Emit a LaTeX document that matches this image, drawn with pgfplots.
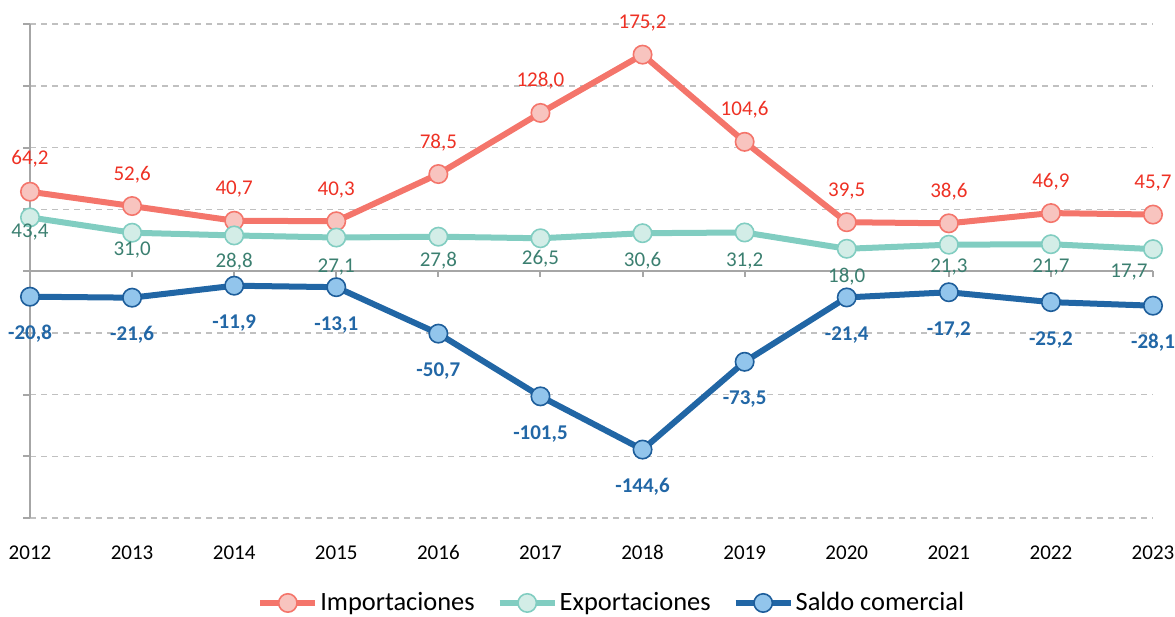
\documentclass[border=0pt]{standalone}
\usepackage{pgfplots}
\usepackage{pgfplotstable}
\pgfplotsset{compat=1.18}
\usepackage{fontspec}
\setmainfont{Carlito}
\definecolor{impL}{HTML}{F4756B}
\definecolor{impF}{HTML}{F8C4BF}
\definecolor{impT}{HTML}{EE3124}
\definecolor{expL}{HTML}{81CDC1}
\definecolor{expF}{HTML}{D3EDE7}
\definecolor{expT}{HTML}{3B7F70}
\definecolor{salL}{HTML}{2166A5}
\definecolor{salF}{HTML}{92C5EC}
\definecolor{salD}{HTML}{1E5E9B}
\definecolor{salT}{HTML}{2267A6}
\definecolor{axgray}{HTML}{A6A6A6}
\definecolor{grgray}{HTML}{C0C0C0}

\pgfplotstableread{
x y dy dx
2012 64.2 13.5 0
2013 52.6 13 0
2014 40.7 13 0
2015 40.3 13 0
2016 78.5 13 0
2017 128.0 13 0
2018 175.2 13 0
2019 104.6 13 0
2020 39.5 13 0
2021 38.6 13 0
2022 46.9 13 0
2023 45.7 13 0
}\imp
\pgfplotstableread{
x y dy dx
2012 43.4 -10 0
2013 31.0 -11.5 0
2014 28.8 -16 0
2015 27.1 -17.5 0
2016 27.8 -15 0
2017 26.5 -13 0
2018 30.6 -16.5 0
2019 31.2 -17 0
2020 18.0 -17 0
2021 21.3 -14 0
2022 21.7 -14 0
2023 17.7 -14 -12
}\expo
\pgfplotstableread{
x y dy dx
2012 -20.8 -21.5 0
2013 -21.6 -21.5 0
2014 -11.9 -21.5 0
2015 -13.1 -21.5 0
2016 -50.7 -21.5 0
2017 -101.5 -21.5 0
2018 -144.6 -21.5 0
2019 -73.5 -21.5 0
2020 -21.4 -21.5 0
2021 -17.2 -21.5 0
2022 -25.2 -21.5 0
2023 -28.1 -21.5 0
}\sal

\pgfplotsset{
  lbl/.style={
    nodes near coords={\pgfmathprintnumber[fixed, fixed zerofill, precision=1, use comma, assume math mode=true]{\pgfplotspointmeta}},
    point meta=y,
    visualization depends on={\thisrow{dy}\as\mydy},
    visualization depends on={\thisrow{dx}\as\mydx},
    every node near coord/.append style={anchor=base, yshift=\mydy pt, xshift=\mydx pt, font=\fontsize{10.5}{12}\selectfont},
  },
}

\begin{document}
\begin{tikzpicture}
\begin{axis}[
  scale only axis,
  width=561.5pt, height=247pt,
  xmin=2012, xmax=2023, ymin=-200, ymax=200,
  clip=false,
  axis line style={draw=none},
  xtick={2012,2013,2014,2015,2016,2017,2018,2019,2020,2021,2022,2023},
  xticklabels={2012,2013,2014,2015,2016,2017,2018,2019,2020,2021,2022,2023},
  xtick style={draw=none},
  xticklabel style={anchor=base, yshift=-17pt, font=\fontsize{10.5}{12}\selectfont, text=black},
  ytick={-200,-150,-100,-50,0,50,100,150,200},
  yticklabels={},
  ytick pos=left,
  tick align=outside,
  major tick length=3.5pt,
  ytick style={draw=axgray, line width=1pt},
  ymajorgrids,
  major grid style={draw=grgray, line width=0.75pt, dash pattern=on 3pt off 2.5pt},
  legend columns=3,
  legend style={at={(0.518,-0.172)}, anchor=center, draw=none, fill=none,
    font=\fontsize{13.2}{15}\selectfont,
    nodes={inner sep=1pt},
    /tikz/every odd column/.append style={column sep=0pt},
    /tikz/every even column/.append style={column sep=10pt}},
  legend image code/.code={\draw[#1, mark repeat=2, mark phase=2] plot coordinates {(0pt,0pt) (13.75pt,0pt) (27.5pt,0pt)};},
]
% axis lines
\addplot[axgray, line width=1pt, forget plot, no marks] coordinates {(2012,-200) (2012,200)};
\addplot[axgray, line width=1pt, forget plot, no marks] coordinates {(2012,0) (2023,0)};
\addplot[axgray, line width=1pt, forget plot, no marks, ycomb] coordinates {
(2012,-5) (2013,-5) (2014,-5) (2015,-5) (2016,-5) (2017,-5) (2018,-5) (2019,-5) (2020,-5) (2021,-5) (2022,-5) (2023,-5)};

\addplot[impL, line width=3pt, mark=*, mark size=4.6pt,
  mark options={solid, fill=impF, draw=impL, line width=0.8pt}, lbl,
  every node near coord/.append style={text=impT}] table[x=x,y=y] {\imp};
\addlegendentry{Importaciones}
\addplot[expL, line width=3pt, mark=*, mark size=4.6pt,
  mark options={solid, fill=expF, draw=expL, line width=0.8pt}, lbl,
  every node near coord/.append style={text=expT}] table[x=x,y=y] {\expo};
\addlegendentry{Exportaciones}
\addplot[salL, line width=3pt, mark=*, mark size=4.6pt,
  mark options={solid, fill=salF, draw=salD, line width=0.8pt}, lbl,
  every node near coord/.append style={text=salT, font=\fontsize{10.5}{12}\selectfont\bfseries}] table[x=x,y=y] {\sal};
\addlegendentry{Saldo comercial}

\coordinate (BL) at (rel axis cs:0,0);
\coordinate (TR) at (rel axis cs:1,1);
\end{axis}
\pgfresetboundingbox
\path[use as bounding box] ([xshift=-15pt,yshift=-49pt]BL) rectangle ([xshift=11pt,yshift=12pt]TR);
\end{tikzpicture}
\end{document}
